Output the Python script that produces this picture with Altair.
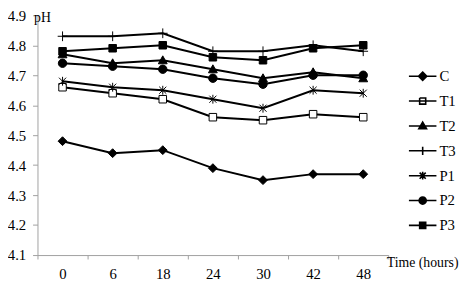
import altair as alt
import pandas as pd

times = ["0", "6", "18", "24", "30", "42", "48"]
series = ["C", "T1", "T2", "T3", "P1", "P2", "P3"]
C = [4.48, 4.44, 4.45, 4.39, 4.35, 4.37, 4.37]
T1 = [4.66, 4.64, 4.62, 4.56, 4.55, 4.57, 4.56]
T2 = [4.77, 4.74, 4.75, 4.72, 4.69, 4.71, 4.69]
T3 = [4.83, 4.83, 4.84, 4.78, 4.78, 4.80, 4.78]
P1 = [4.68, 4.66, 4.65, 4.62, 4.59, 4.65, 4.64]
P2 = [4.74, 4.73, 4.72, 4.69, 4.67, 4.70, 4.70]
P3 = [4.78, 4.79, 4.80, 4.76, 4.75, 4.79, 4.80]
values = {"C": C, "T1": T1, "T2": T2, "T3": T3, "P1": P1, "P2": P2, "P3": P3}

rows = []
for s in series:
    for t, v in zip(times, values[s]):
        rows.append({"time": t, "pH": v, "series": s})
df = pd.DataFrame(rows)

sq = "M-0.85,-0.85H0.85V0.85H-0.85Z"
plot_shapes = [
    "M0,-1L1,0L0,1L-1,0Z",
    sq,
    "M0,-1L1,0.8H-1Z",
    "M-1.1,0H1.1M0,-1.1V1.1",
    "M-0.8,-0.8L0.8,0.8M-0.8,0.8L0.8,-0.8M0,-1V1",
    "M0.95,0A0.95,0.95,0,1,1,-0.95,0A0.95,0.95,0,1,1,0.95,0Z",
    sq,
]
plot_fills = ["black", "white", "black", "black", "black", "black", "black"]

leg_shapes = [
    "M-1,0H1M0,-0.3L0.3,0L0,0.3L-0.3,0Z",
    "M-1,0H1M-0.22,-0.22H0.22V0.22H-0.22V-0.22V0.22H0.22V-0.22H-0.22",
    "M-1,0H1M0,-0.28L0.28,0.2H-0.28Z",
    "M-1,0H1M0,-0.3V0.3",
    "M-1,0H1M-0.22,-0.22L0.22,0.22M-0.22,0.22L0.22,-0.22M0,-0.28V0.28",
    "M-1,0H1M0.26,0A0.26,0.26,0,1,1,-0.26,0A0.26,0.26,0,1,1,0.26,0Z",
    "M-1,0H1M-0.22,-0.22H0.22V0.22H-0.22Z",
]

x = alt.X(
    "time:N",
    sort=times,
    scale=alt.Scale(type="band", paddingInner=0, paddingOuter=0),
    bandPosition=0.5,
    axis=alt.Axis(
        title="Time (hours)", labelAngle=0, tickBand="extent", tickSize=4,
        labelPadding=8, titleX=355, titleY=8, titleAlign="left",
        titleBaseline="middle", titleAnchor=None, titleFontSize=14,
    ),
)
y = alt.Y(
    "pH:Q",
    scale=alt.Scale(domain=[4.1, 4.9], nice=False, zero=False),
    axis=alt.Axis(
        title="pH", titleAngle=0, titleX=-4, titleY=6, titleAlign="left",
        titleBaseline="alphabetic", values=[4.1, 4.2, 4.3, 4.4, 4.5, 4.6, 4.7, 4.8, 4.9],
        format=".1f", tickSize=5, labelPadding=7, grid=False, titleFontSize=14,
    ),
)

lines = alt.Chart(df).mark_line(color="black", strokeWidth=2).encode(
    x=x, y=y, detail="series:N"
)
pts = alt.Chart(df).mark_point(filled=True, stroke="black", strokeWidth=1, size=81, opacity=1).encode(
    x=x, y=y,
    shape=alt.Shape("series:N", sort=series, scale=alt.Scale(domain=series, range=plot_shapes), legend=None),
    fill=alt.Fill("series:N", sort=series, scale=alt.Scale(domain=series, range=plot_fills), legend=None),
)
legpts = alt.Chart(df).mark_point(filled=True, fill="black", stroke="black", strokeWidth=1.6, size=784, opacity=0).encode(
    x=x, y=y,
    shape=alt.Shape(
        "series:N", sort=series, scale=alt.Scale(domain=series, range=leg_shapes),
        legend=alt.Legend(
            title=None, orient="none", legendX=377, legendY=47, symbolOpacity=1,
            symbolSize=784, rowPadding=2.3, labelOffset=2, padding=0,
            labelFontSize=15, symbolStrokeWidth=1.6,
        ),
    ),
)

chart = alt.layer(lines, pts, legpts).resolve_scale(shape="independent").properties(
    width=357, height=244,
    autosize=alt.AutoSizeParams(type="none"),
    padding={"left": 30, "top": 5, "right": 74, "bottom": 26},
).configure(font="Liberation Serif").configure_axis(
    labelFont="Liberation Serif", titleFont="Liberation Serif",
    labelFontSize=15, titleFontWeight="normal",
    labelColor="black", titleColor="black",
    domainColor="#a0a0a0", tickColor="#a0a0a0", domainWidth=1,
).configure_legend(
    labelFont="Liberation Serif", labelColor="black",
).configure_view(stroke=None)

chart.save("out.html", embed_options={"renderer": "svg", "actions": False})
